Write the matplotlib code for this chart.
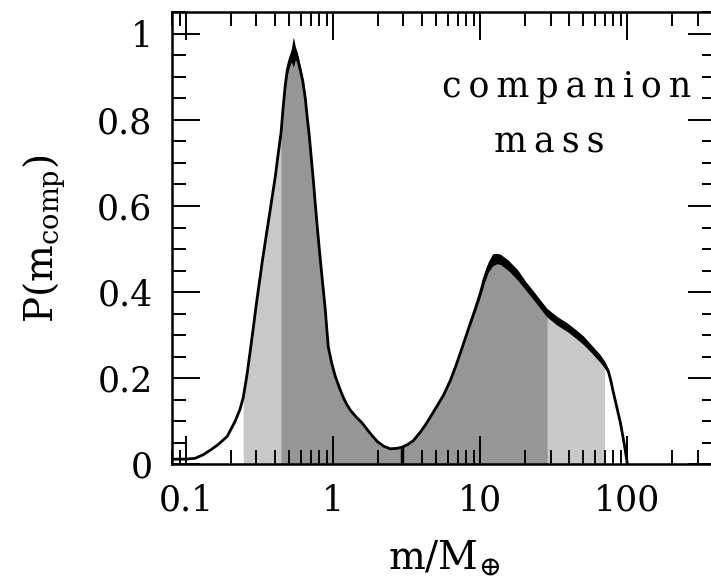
import numpy as np
import matplotlib
matplotlib.use("Agg")
import matplotlib.pyplot as plt
from matplotlib.ticker import FixedLocator, LogLocator, MultipleLocator, NullFormatter

# companion mass (Earth masses) and posterior probability
mass = [0.080, 0.100, 0.115, 0.130, 0.146, 0.165, 0.190, 0.215, 0.232, 0.244,
        0.258, 0.272, 0.286, 0.299, 0.314, 0.329, 0.350, 0.373, 0.403, 0.420,
        0.441, 0.456, 0.471, 0.486, 0.502, 0.518, 0.535, 0.552, 0.569, 0.583,
        0.597, 0.620, 0.645, 0.665, 0.687, 0.708, 0.731, 0.754, 0.778, 0.803,
        0.829, 0.855, 0.882, 0.905, 0.925, 0.975, 1.03, 1.10, 1.17, 1.24,
        1.31, 1.43, 1.57, 1.78, 1.99, 2.20, 2.44, 2.70, 2.95, 3.20,
        3.50, 3.91, 4.20, 4.57, 5.00, 5.60, 6.25, 6.80, 7.31, 7.90,
        8.55, 9.25, 10.0, 10.6, 11.3, 12.1, 13.0, 13.7, 15.5, 17.9,
        20.3, 23.0, 25.5, 28.4, 33.0, 39.1, 44.5, 50.2, 57.0, 65.5,
        69.8, 74.3, 77.0, 80.3, 85.0, 89.6, 95.0, 100.0]
prob = [0.012, 0.012, 0.014, 0.022, 0.033, 0.046, 0.065, 0.100, 0.128, 0.155,
        0.205, 0.262, 0.318, 0.370, 0.422, 0.472, 0.532, 0.593, 0.668, 0.716,
        0.770, 0.830, 0.880, 0.915, 0.935, 0.950, 0.958, 0.955, 0.945, 0.930,
        0.915, 0.890, 0.850, 0.805, 0.762, 0.712, 0.660, 0.605, 0.551, 0.500,
        0.451, 0.405, 0.359, 0.310, 0.272, 0.235, 0.205, 0.178, 0.155, 0.138,
        0.125, 0.110, 0.096, 0.072, 0.053, 0.042, 0.036, 0.037, 0.040, 0.046,
        0.055, 0.075, 0.090, 0.110, 0.132, 0.160, 0.195, 0.228, 0.259, 0.293,
        0.328, 0.362, 0.398, 0.430, 0.458, 0.475, 0.478, 0.476, 0.462, 0.440,
        0.415, 0.392, 0.372, 0.352, 0.334, 0.318, 0.303, 0.288, 0.268, 0.245,
        0.232, 0.215, 0.195, 0.166, 0.130, 0.096, 0.048, 0.0]
# half-width of the jitter seen on the noisy parts of the curve
jitter = [0, 0, 0, 0, 0, 0, 0, 0, 0, 0,
          0, 0, 0, 0, 0, 0, 0, 0, 0, 0,
          0.004, 0.006, 0.008, 0.010, 0.012, 0.015, 0.035, 0.015, 0.012, 0.010,
          0.010, 0.008, 0.006, 0.004, 0, 0, 0, 0, 0, 0,
          0, 0, 0, 0, 0, 0, 0, 0, 0, 0,
          0, 0, 0, 0, 0, 0, 0, 0, 0, 0,
          0, 0, 0, 0, 0, 0, 0, 0, 0, 0,
          0.004, 0.006, 0.008, 0.010, 0.012, 0.014, 0.012, 0.012, 0.012, 0.012,
          0.010, 0.010, 0.010, 0.010, 0.010, 0.010, 0.010, 0.010, 0.009, 0.009,
          0.008, 0.006, 0.004, 0, 0, 0, 0, 0]

# credible intervals (light = outer, dark = inner) and median
outer_lo, outer_hi = 0.244, 69.8
inner_lo, inner_hi = 0.441, 28.4
median_mass, median_prob = 2.95, 0.040

xticks = [0.1, 1, 10, 100]
xticklabels = ["0.1", "1", "10", "100"]
yticks = [0, 0.2, 0.4, 0.6, 0.8, 1.0]
yticklabels = ["0", "0.2", "0.4", "0.6", "0.8", "1"]

plt.rcParams["font.family"] = "DejaVu Serif"
plt.rcParams["mathtext.fontset"] = "dejavuserif"

x = np.array(mass)
y = np.array(prob)
j = np.array(jitter)

fig = plt.figure(figsize=(7.11, 5.83), dpi=100)
ax = fig.add_axes([172 / 711, 118.7 / 583, 544 / 711, 452 / 583])

# shaded intervals
m = (x >= outer_lo) & (x <= outer_hi)
ax.fill_between(x[m], 0, y[m], color="#c8c8c8", lw=0)
m = (x >= inner_lo) & (x <= inner_hi)
ax.fill_between(x[m], 0, y[m], color="#969696", lw=0)

# curve with its noise band
ax.fill_between(x, y - j, y + j, color="black", lw=0)
ax.plot(x, y, color="black", lw=2)
ax.vlines(median_mass, 0, median_prob, color="black", lw=2.5)

ax.set_xscale("log")
ax.set_xlim(0.08, 400)
ax.set_ylim(0, 1.05)

ax.xaxis.set_major_locator(FixedLocator(xticks))
ax.set_xticklabels(xticklabels)
ax.xaxis.set_minor_locator(LogLocator(base=10, subs=np.arange(2, 10)))
ax.xaxis.set_minor_formatter(NullFormatter())
ax.set_yticks(yticks)
ax.set_yticklabels(yticklabels)
ax.yaxis.set_minor_locator(MultipleLocator(0.05))

ax.tick_params(which="both", direction="in", top=True, right=True, labelsize=25)
ax.tick_params(which="major", length=20, width=1.4, pad=14)
ax.tick_params(which="minor", length=10, width=1.4)
for s in ax.spines.values():
    s.set_linewidth(1.8)

ax.set_xlabel(r"$\mathrm{m/M_{\oplus}}$", fontsize=28, labelpad=15)
ax.set_ylabel(r"$\mathrm{P(m_{comp})}$", fontsize=28, labelpad=21)

ax.text(0.725, 0.813, "\u2009".join("companion"), transform=ax.transAxes,
        ha="center", va="baseline", fontsize=25)
ax.text(0.693, 0.689, "\u2009".join("mass"), transform=ax.transAxes,
        ha="center", va="baseline", fontsize=25)

fig.savefig("out.png", dpi=100)
